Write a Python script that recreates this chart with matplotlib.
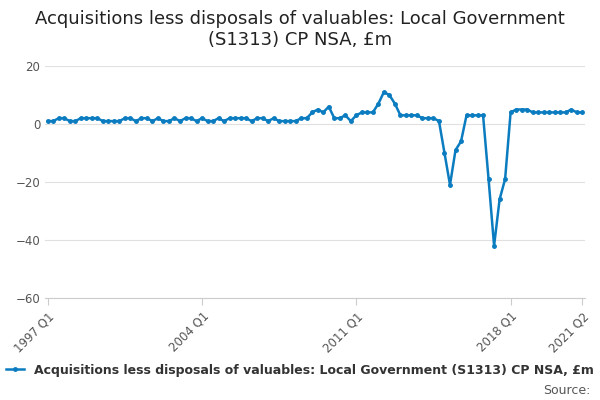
import matplotlib.pyplot as plt
import numpy as np

values = [1, 1, 2, 2, 1, 1, 2, 2, 2, 2,
          1, 1, 1, 1, 2, 2, 1, 2, 2, 1,
          2, 1, 1, 2, 1, 2, 2, 1, 2, 1,
          1, 2, 1, 2, 2, 2, 2, 1, 2, 2,
          1, 2, 1, 1, 1, 1,
          2, 2, 4, 5, 4, 6, 2, 2, 3, 1,
          3, 4, 4, 4, 7, 11, 10, 7, 3, 3,
          3, 3, 2, 2, 2, 1, -10, -21, -9, -6,
          3, 3, 3, 3, -19, -42, -26, -19, 4, 5,
          5, 5, 4, 4, 4, 4, 4, 4, 4, 5, 4, 4]
tick_pos = [0, 28, 56, 84, 97]
tick_labels = ["1997 Q1", "2004 Q1", "2011 Q1", "2018 Q1", "2021 Q2"]
series_name = "Acquisitions less disposals of valuables: Local Government (S1313) CP NSA, £m"

fig = plt.figure(figsize=(6, 4), dpi=100)
ax = fig.add_axes([0.075, 0.255, 0.9, 0.58])
x = np.arange(len(values))
ax.plot(x, values, color="#0b7cc0", lw=1.8, marker="o", ms=2.5, label=series_name)
ax.set_ylim(-60, 20)
ax.set_yticks([-60, -40, -20, 0, 20])
ax.set_xlim(-0.5, 97.5)
ax.set_xticks(tick_pos)
ax.set_xticklabels(tick_labels, rotation=45, ha="right", rotation_mode="anchor")
ax.grid(axis="y", color="#e0e0e0", lw=0.8)
ax.set_axisbelow(True)
for s in ["top", "right", "left"]:
    ax.spines[s].set_visible(False)
ax.spines["bottom"].set_color("#cccccc")
ax.tick_params(axis="y", length=0, colors="#555555", labelsize=8.5)
ax.tick_params(axis="x", colors="#cccccc", labelcolor="#555555", labelsize=8.5, length=5)
fig.suptitle("Acquisitions less disposals of valuables: Local Government\n(S1313) CP NSA, £m",
             fontsize=13, y=0.975, color="#222222")
leg = fig.legend(loc="lower center", bbox_to_anchor=(0.5, 0.03), frameon=False,
                 prop={"weight": "bold", "size": 9}, handlelength=1.5)
for t in leg.get_texts():
    t.set_color("#333333")
fig.text(0.985, 0.015, "Source:", ha="right", fontsize=9, color="#555555")
fig.savefig("out.png")
